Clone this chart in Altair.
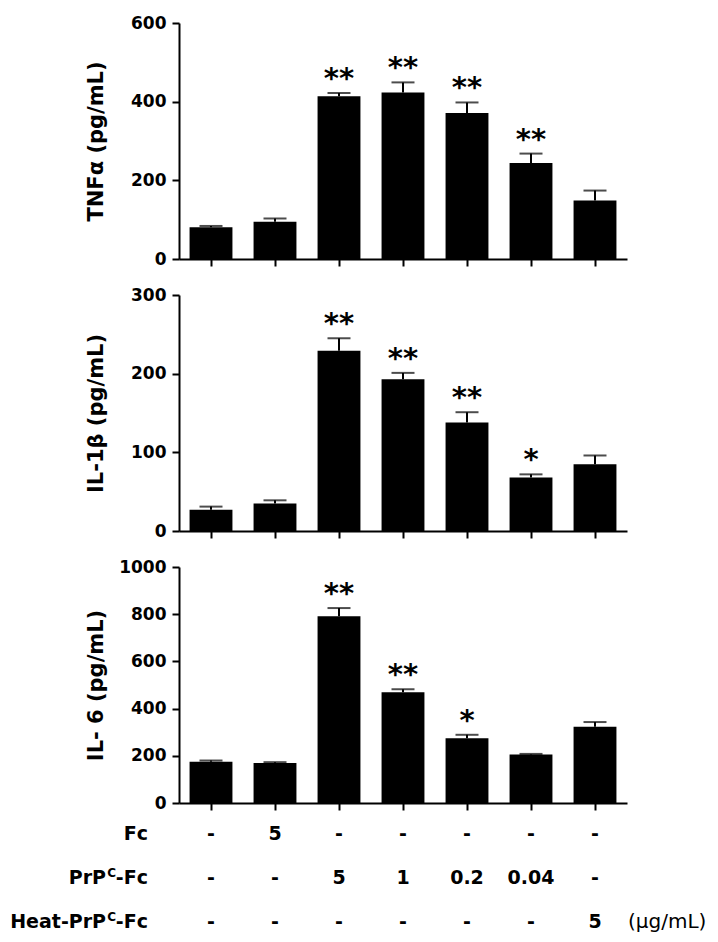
import altair as alt
import pandas as pd

# ---------------- data ----------------
conditions = ["Control", "Fc 5", "PrPC-Fc 5", "PrPC-Fc 1", "PrPC-Fc 0.2",
              "PrPC-Fc 0.04", "Heat-PrPC-Fc 5"]

tnf_mean = [81, 95, 414, 423, 371, 244, 149]
tnf_err = [3, 8, 8, 26, 27, 24, 25]
tnf_sig = ["", "", "**", "**", "**", "**", ""]

il1b_mean = [27, 35, 229, 193, 138, 68, 85]
il1b_err = [4, 4, 16, 8, 13, 4, 11]
il1b_sig = ["", "", "**", "**", "**", "*", ""]

il6_mean = [175, 170, 791, 469, 274, 206, 323]
il6_err = [5, 3, 35, 13, 15, 2, 20]
il6_sig = ["", "", "**", "**", "*", "", ""]

fc_row = ["-", "5", "-", "-", "-", "-", "-"]
prp_row = ["-", "-", "5", "1", "0.2", "0.04", "-"]
heat_row = ["-", "-", "-", "-", "-", "-", "5"]

row_main = ["", "PrP", "Heat-PrP"]
row_sup = ["", "C", "C"]
row_suffix = ["Fc", "-Fc", "-Fc"]
unit_label = "(μg/mL)"

# ---------------- chart ----------------
FONT = "DejaVu Sans"
W, H = 448, 236

xscale = alt.Scale(domain=conditions, paddingInner=0.33, paddingOuter=0.165)


def xenc():
    return alt.X("cond:N", sort=conditions, scale=xscale,
                 axis=alt.Axis(labels=False, title=None, ticks=True,
                               tickSize=7, tickWidth=2, domainWidth=2))


def panel(mean, err, sig, title, dmax, step, extra=()):
    df = pd.DataFrame({"cond": conditions, "value": mean, "err": err, "sig": sig})
    base = alt.Chart(df).transform_calculate(top="datum.value + datum.err")
    yax = alt.Axis(title=title, values=list(range(0, dmax + 1, step)), format="d",
                   tickSize=7, labelPadding=6, titleX=-83, titleY=H / 2,
                   titleAngle=-90, titleAlign="center", titleBaseline="middle",
                   grid=False)
    ysc = alt.Scale(domain=[0, dmax], nice=False, zero=True)
    rule = base.mark_rule(color="black", strokeWidth=2).encode(
        x=xenc(), y=alt.Y("value:Q", scale=ysc, axis=yax), y2="top:Q")
    cap = base.mark_tick(color="black", size=23, thickness=2).encode(
        x=xenc(), y=alt.Y("top:Q", scale=ysc, axis=yax))
    bars = base.mark_bar(color="black").encode(
        x=xenc(), y=alt.Y("value:Q", scale=ysc, axis=yax))
    stars = base.mark_text(font=FONT, fontWeight="bold", fontSize=29,
                           baseline="alphabetic", dy=-5, color="black").encode(
        x=xenc(), y=alt.Y("top:Q", scale=ysc, axis=yax), text="sig:N")
    return alt.layer(rule, cap, bars, stars, *extra).properties(width=W, height=H)


# table below the bottom panel
table_df = pd.DataFrame({"cond": conditions, "fc": fc_row, "prp": prp_row, "heat": heat_row})
label_df = pd.DataFrame({"row": [0, 1, 2], "main": row_main, "sup": row_sup, "suffix": row_suffix})
row_y = [267, 311, 355]

extra = []
for i, (field, yy) in enumerate(zip(["fc", "prp", "heat"], row_y)):
    extra.append(
        alt.Chart(table_df).mark_text(font=FONT, fontWeight="bold", fontSize=19,
                                      baseline="middle", color="black").encode(
            x=xenc(), y=alt.value(yy), text=f"{field}:N"))
    lab = alt.Chart(label_df).transform_filter(f"datum.row == {i}")
    extra.append(lab.mark_text(font=FONT, fontWeight="bold", fontSize=19, align="right",
                               baseline="middle", color="black").encode(
        x=alt.value(-31), y=alt.value(yy), text="suffix:N"))
    extra.append(lab.mark_text(font=FONT, fontWeight="bold", fontSize=12, align="right",
                               baseline="middle", dy=-5, color="black").encode(
        x=alt.value(-63), y=alt.value(yy), text="sup:N"))
    extra.append(lab.mark_text(font=FONT, fontWeight="bold", fontSize=19, align="right",
                               baseline="middle", color="black").encode(
        x=alt.value(-73), y=alt.value(yy), text="main:N"))

unit_df = pd.DataFrame({"u": [unit_label]})
extra.append(alt.Chart(unit_df).mark_text(font=FONT, fontSize=20, align="left",
                                          baseline="middle", color="black").encode(
    x=alt.value(449), y=alt.value(row_y[2]), text="u:N"))

p1 = panel(tnf_mean, tnf_err, tnf_sig, "TNFα (pg/mL)", 600, 200)
p2 = panel(il1b_mean, il1b_err, il1b_sig, "IL-1β (pg/mL)", 300, 100)
p3 = panel(il6_mean, il6_err, il6_sig, "IL- 6 (pg/mL)", 1000, 200, extra)

chart = alt.vconcat(p1, p2, p3, spacing=36, bounds="flush").properties(
    padding={"left": 2, "top": 6, "right": 2, "bottom": 2}
).configure_axis(
    domainColor="black", tickColor="black", labelColor="black", titleColor="black",
    labelFont=FONT, titleFont=FONT, labelFontWeight="bold", titleFontWeight="bold",
    labelFontSize=17, titleFontSize=21, domainWidth=2, tickWidth=2, grid=False
).configure_view(stroke=None)

chart.save("out.html", embed_options={"renderer": "svg", "actions": False})
